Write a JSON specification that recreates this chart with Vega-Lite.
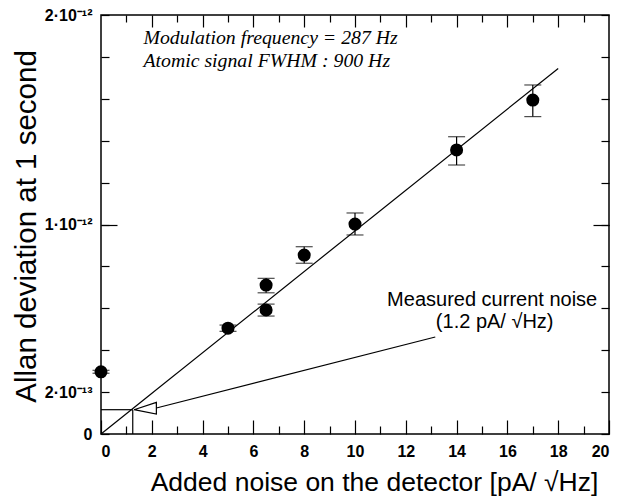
{
  "$schema": "https://vega.github.io/schema/vega-lite/v6.json",
  "width": 508,
  "height": 419,
  "autosize": {"type": "none"},
  "padding": {"left": 101, "top": 15, "right": 22, "bottom": 66},
  "background": "white",
  "config": {
    "view": {"stroke": "black", "strokeWidth": 1.5},
    "axis": {
      "domain": false, "grid": false,
      "tickColor": "black", "labelColor": "black", "titleColor": "black",
      "labelFont": "Liberation Sans", "titleFont": "Liberation Sans",
      "labelFontWeight": "bold", "labelFontSize": 16,
      "titleFontSize": 26, "titleFontWeight": "normal", "tickWidth": 1.2
    }
  },
  "datasets": {
    "pts": [
      {"noise": 0, "allan": 2.97e-13, "lo": 2.90e-13, "hi": 3.04e-13},
      {"noise": 5, "allan": 5.05e-13, "lo": 4.90e-13, "hi": 5.20e-13},
      {"noise": 6.5, "allan": 5.92e-13, "lo": 5.63e-13, "hi": 6.20e-13},
      {"noise": 6.5, "allan": 7.11e-13, "lo": 6.74e-13, "hi": 7.43e-13},
      {"noise": 8, "allan": 8.54e-13, "lo": 8.15e-13, "hi": 8.94e-13},
      {"noise": 10, "allan": 1.002e-12, "lo": 0.95e-12, "hi": 1.055e-12},
      {"noise": 14, "allan": 1.356e-12, "lo": 1.284e-12, "hi": 1.419e-12},
      {"noise": 17, "allan": 1.594e-12, "lo": 1.515e-12, "hi": 1.666e-12}
    ],
    "lines": [
      {"id": "fit", "o": 0, "noise": 0, "allan": 0},
      {"id": "fit", "o": 1, "noise": 18, "allan": 1.745e-12},
      {"id": "h", "o": 0, "noise": 0, "allan": 1.16e-13},
      {"id": "h", "o": 1, "noise": 1.25, "allan": 1.16e-13},
      {"id": "v", "o": 0, "noise": 1.25, "allan": 0},
      {"id": "v", "o": 1, "noise": 1.25, "allan": 1.16e-13},
      {"id": "arrow", "o": 0, "noise": 2.18, "allan": 1.24e-13},
      {"id": "arrow", "o": 1, "noise": 13.16, "allan": 4.63e-13},
      {"id": "tri", "o": 0, "noise": 1.3, "allan": 1.16e-13},
      {"id": "tri", "o": 1, "noise": 2.18, "allan": 1.51e-13},
      {"id": "tri", "o": 2, "noise": 2.18, "allan": 0.95e-13},
      {"id": "tri", "o": 3, "noise": 1.3, "allan": 1.16e-13}
    ],
    "labels": [
      {"noise": 1.67, "allan": 1.89e-12, "text": "Modulation frequency = 287 Hz", "kind": "it"},
      {"noise": 1.67, "allan": 1.78e-12, "text": "Atomic signal FWHM : 900 Hz", "kind": "it"},
      {"noise": 15.4, "allan": 6.4e-13, "text": "Measured current noise", "kind": "sans"},
      {"noise": 15.5, "allan": 5.35e-13, "text": "(1.2 pA/ √Hz)", "kind": "sans"}
    ]
  },
  "resolve": {"axis": {"x": "independent", "y": "independent"}},
  "layer": [
    {
      "encoding": {
        "x": {
          "field": "noise", "type": "quantitative",
          "scale": {"domain": [0, 20], "nice": false, "zero": false},
          "axis": {
            "orient": "bottom",
            "values": [0, 2, 4, 6, 8, 10, 12, 14, 16, 18, 20],
            "tickSize": -14, "labelPadding": 23,
            "labelFontSize": 16, "labelFontWeight": "bold", "labelFont": "Liberation Sans",
            "title": "Added noise on the detector [pA/ √Hz]",
            "titleFontSize": 26.5, "titleX": 273, "titleY": 56, "titleBaseline": "alphabetic"
          }
        },
        "y": {
          "field": "allan", "type": "quantitative",
          "scale": {"domain": [0, 2e-12], "nice": false, "zero": false},
          "axis": {
            "orient": "left",
            "values": [0, 2e-13, 4e-13, 6e-13, 8e-13, 1e-12, 1.2e-12, 1.4e-12, 1.6e-12, 1.8e-12, 2e-12],
            "tickSize": -8, "labelPadding": 17,
            "labelFontSize": 16, "labelFontWeight": "bold", "labelFont": "Liberation Sans",
            "labelExpr": "datum.value == 0 ? '0' : abs(datum.value - 2e-13) < 1e-16 ? '2·10⁻¹³' : abs(datum.value - 1e-12) < 1e-16 ? '1·10⁻¹²' : abs(datum.value - 2e-12) < 1e-16 ? '2·10⁻¹²' : ''",
            "title": "Allan deviation at 1 second",
            "titleFontSize": 29.5, "titleX": -66, "titleY": 211, "titleBaseline": "alphabetic"
          }
        }
      },
      "layer": [
        {
          "data": {"name": "lines"},
          "mark": {"type": "line", "color": "black", "strokeWidth": 1.2},
          "encoding": {
            "detail": {"field": "id"},
            "order": {"field": "o", "type": "quantitative"}
          }
        },
        {
          "data": {"name": "pts"},
          "mark": {"type": "rule", "color": "black", "strokeWidth": 1.2},
          "encoding": {
            "y": {"field": "lo", "type": "quantitative", "title": "Allan deviation at 1 second"},
            "y2": {"field": "hi"}
          }
        },
        {
          "data": {"name": "pts"},
          "mark": {"type": "tick", "orient": "horizontal", "color": "black", "size": 17, "thickness": 1.2},
          "encoding": {"y": {"field": "lo", "type": "quantitative", "title": "Allan deviation at 1 second"}}
        },
        {
          "data": {"name": "pts"},
          "mark": {"type": "tick", "orient": "horizontal", "color": "black", "size": 17, "thickness": 1.2},
          "encoding": {"y": {"field": "hi", "type": "quantitative", "title": "Allan deviation at 1 second"}}
        },
        {
          "data": {"name": "pts"},
          "mark": {"type": "point", "filled": true, "color": "black", "opacity": 1, "size": 170}
        },
        {
          "data": {"name": "labels"},
          "transform": [{"filter": "datum.kind == 'it'"}],
          "mark": {"type": "text", "align": "left", "baseline": "middle", "font": "Liberation Serif", "fontStyle": "italic", "fontSize": 19.8, "color": "black"},
          "encoding": {"text": {"field": "text"}}
        },
        {
          "data": {"name": "labels"},
          "transform": [{"filter": "datum.kind == 'sans'"}],
          "mark": {"type": "text", "align": "center", "baseline": "middle", "font": "Liberation Sans", "fontSize": 20, "color": "black"},
          "encoding": {"text": {"field": "text"}}
        }
      ]
    },
    {
      "data": {"values": [{"noise": 0, "allan": 0}]},
      "mark": {"type": "point", "opacity": 0},
      "encoding": {
        "x": {"field": "noise", "type": "quantitative", "scale": {"domain": [0, 20], "nice": false, "zero": false},
          "axis": {"orient": "bottom", "values": [1, 3, 5, 7, 9, 11, 13, 15, 17, 19], "tickSize": -8, "labels": false, "title": null}},
        "y": {"field": "allan", "type": "quantitative", "scale": {"domain": [0, 2e-12], "nice": false, "zero": false},
          "axis": {"orient": "right", "values": [0, 2e-13, 4e-13, 6e-13, 8e-13, 1e-12, 1.2e-12, 1.4e-12, 1.6e-12, 1.8e-12, 2e-12], "tickSize": -8, "labels": false, "title": null}}
      }
    },
    {
      "data": {"values": [{"noise": 0, "allan": 0}]},
      "mark": {"type": "point", "opacity": 0},
      "encoding": {
        "x": {"field": "noise", "type": "quantitative", "scale": {"domain": [0, 20], "nice": false, "zero": false},
          "axis": {"orient": "top", "values": [2, 4, 6, 8, 10, 12, 14, 16, 18], "tickSize": -12, "labels": false, "title": null}},
        "y": {"field": "allan", "type": "quantitative", "scale": {"domain": [0, 2e-12], "nice": false, "zero": false},
          "axis": {"orient": "left", "values": [1e-12], "tickSize": -16, "labels": false, "title": null}}
      }
    },
    {
      "data": {"values": [{"noise": 0, "allan": 0}]},
      "mark": {"type": "point", "opacity": 0},
      "encoding": {
        "x": {"field": "noise", "type": "quantitative", "scale": {"domain": [0, 20], "nice": false, "zero": false},
          "axis": {"orient": "top", "values": [1, 3, 5, 7, 9, 11, 13, 15, 17, 19], "tickSize": -7, "labels": false, "title": null}},
        "y": {"field": "allan", "type": "quantitative", "scale": {"domain": [0, 2e-12], "nice": false, "zero": false},
          "axis": {"orient": "right", "values": [1e-12], "tickSize": -16, "labels": false, "title": null}}
      }
    }
  ]
}
